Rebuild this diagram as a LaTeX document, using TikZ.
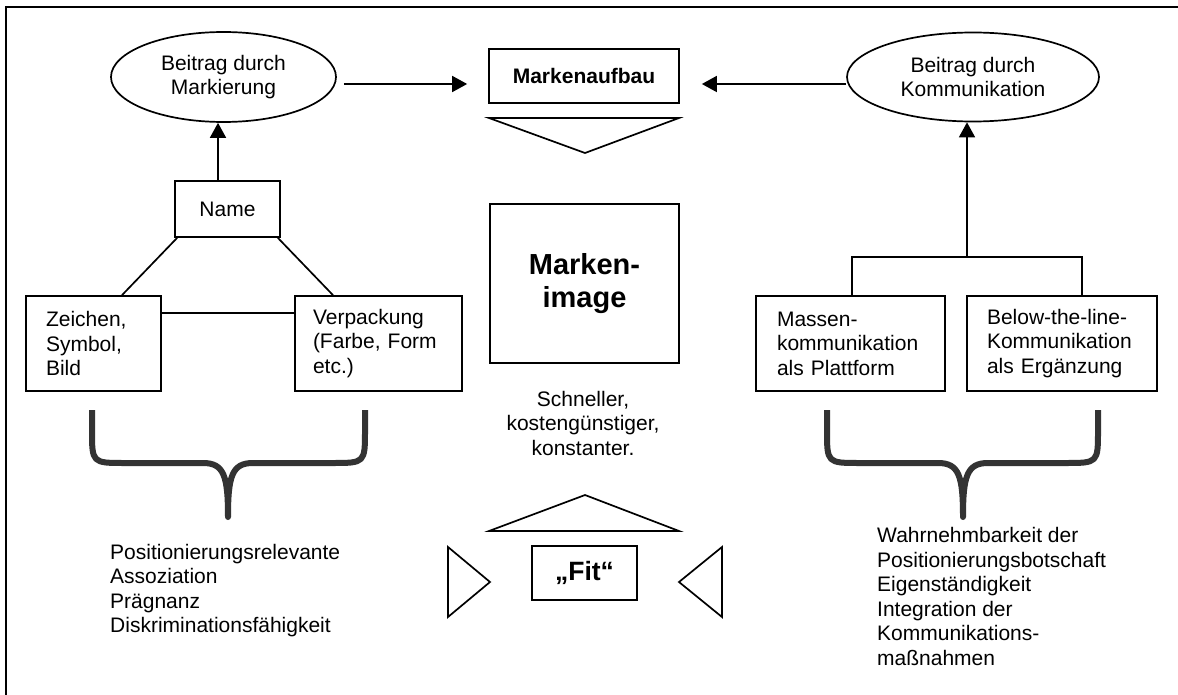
\documentclass[tikz,border=0pt]{standalone}
\usepackage{fontspec}
\setmainfont{Liberation Sans}
\usetikzlibrary{arrows.meta,shapes.geometric}
\newcommand\fsn{\fontsize{21}{24.5}\selectfont}
\definecolor{bracecol}{HTML}{333333}
\tikzset{
  box/.style={draw, line width=1.7pt, inner sep=0pt, font=\fsn, align=left},
  oval/.style={draw, ellipse, line width=1.7pt, inner sep=0pt, font=\fsn, align=center},
  conn/.style={line width=1.7pt},
  arr/.style={line width=1.7pt, -{Triangle[length=15pt,width=16pt]}},
  tri/.style={line width=1.7pt, line join=miter},
  bracestyle/.style={line width=6pt, draw=bracecol, line join=round},
  plain/.style={inner sep=0pt, font=\fsn, align=left}
}
\begin{document}
\begin{tikzpicture}[x=1pt,y=-1pt]
\useasboundingbox (0,0) rectangle (1178,695);
% frame
\draw[line width=1.7pt] (6,695) -- (6,7) -- (1178,7);

% top row
\node[oval, minimum width=225pt, minimum height=90pt] (lell) at (223.5,77) {Beitrag durch\\Markierung};
\node[oval, minimum width=252pt, minimum height=89pt] (rell) at (973,77) {Beitrag durch\\Kommunikation};
\node[box, minimum width=190pt, minimum height=54pt, font=\fontsize{21}{24}\selectfont\bfseries, align=center] (mauf) at (584,76) {Markenaufbau};

\draw[arr, shorten <=7pt, shorten >=21pt] ([yshift=-7pt]lell.east) -- ([yshift=-8pt]mauf.west);
\draw[arr, shorten >=22pt] ([yshift=-7pt]rell.west) -- ([yshift=-8pt]mauf.east);

% centre column
\draw[tri] (489,118) -- (679,118) -- (585,153) -- cycle;
\node[box, minimum width=189pt, minimum height=159pt, align=center,
      font=\fontsize{29}{32.5}\selectfont\bfseries] (mimg) at (584.5,283.5) {Marken-\\image};
\node[plain, align=center] (schn) at (583,423) {Schneller,\\kostengünstiger,\\konstanter.};
\draw[tri] (489,531) -- (679,531) -- (585,495) -- cycle;
\node[box, minimum width=105pt, minimum height=54pt, align=center,
      font=\fontsize{26.5}{30}\selectfont\bfseries] (fit) at (584.5,573) {„Fit“};
\draw[tri] (448,547) -- (448,617) -- (490,582) -- cycle;
\draw[tri] (722,547) -- (722,617) -- (679,582) -- cycle;

% left branch
\node[box, minimum width=105pt, minimum height=56pt, align=center] (name) at (227.5,209) {Name};
\node[box, minimum width=135pt, minimum height=95pt, text width=95pt, inner xsep=20pt] (zeich) at (93.5,343.5) {Zeichen,\\Symbol,\\Bild};
\node[box, minimum width=167pt, minimum height=95pt, text width=131pt, inner xsep=18pt] (verp) at (378.5,343.5) {Verpackung\\(Farbe, Form\\etc.)};
\draw[arr] ([xshift=-9.5pt]name.north) -- ([xshift=-9.5pt]name.north |- lell.south);
\draw[conn] ([xshift=3pt]name.south west) -- ([xshift=28.5pt]zeich.north);
\draw[conn] ([xshift=-3pt]name.south east) -- ([xshift=-45.5pt]verp.north);
\draw[conn] ([yshift=30.5pt]zeich.east) -- ([yshift=30.5pt]verp.west);

% right branch
\node[box, minimum width=189pt, minimum height=95pt, text width=147pt, inner xsep=21pt] (mass) at (850.5,343.5) {Massen-\\kommunikation\\als Plattform};
\node[box, minimum width=190pt, minimum height=95pt, text width=150pt, inner xsep=20pt] (below) at (1062,343.5) {Below-the-line-\\Kommunikation\\als Ergänzung};
\coordinate (jL) at (852,257);
\coordinate (jR) at (1082,257);
\coordinate (jM) at (967,257);
\draw[conn] (mass.north -| jL) -- (jL) -- (jR) -- (below.north -| jR);
\draw[arr] (jM) -- (jM |- rell.south);

% braces
\draw[bracestyle] (92,410) -- (92,430) .. controls (92,463) .. (125,463) -- (203,463)
  .. controls (224,463) and (228,476) .. (228,517)
  .. controls (228,476) and (232,463) .. (253,463) -- (332,463)
  .. controls (365,463) .. (365,430) -- (365,410);
\draw[bracestyle] (827,410) -- (827,430) .. controls (827,463) .. (860,463) -- (938,463)
  .. controls (959,463) and (963,476) .. (963,517)
  .. controls (963,476) and (967,463) .. (988,463) -- (1065,463)
  .. controls (1098,463) .. (1098,430) -- (1098,410);

% bottom texts
\node[plain, anchor=north west] (ltxt) at (110,544) {Positionierungsrelevante\\Assoziation\\Prägnanz\\Diskriminationsfähigkeit};
\node[plain, anchor=north west] (rtxt) at (877,527.5) {Wahrnehmbarkeit der\\Positionierungsbotschaft\\Eigenständigkeit\\Integration der\\Kommunikations-\\maßnahmen};
\end{tikzpicture}
\end{document}
